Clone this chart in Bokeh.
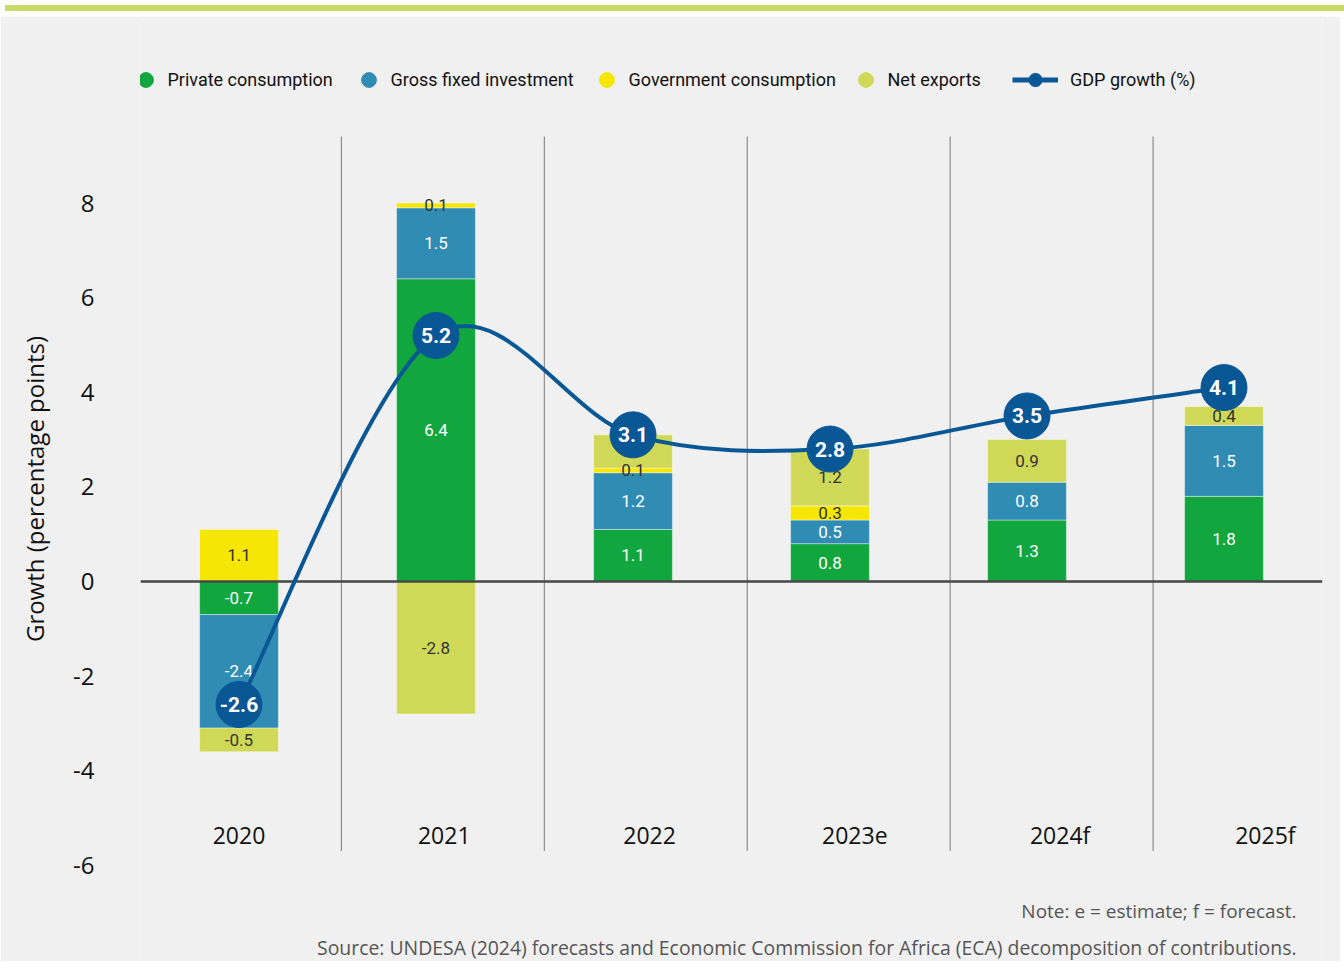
import numpy as np
from bokeh.plotting import figure
from bokeh.models import (Range1d, LinearAxis, FixedTicker, Legend, LegendItem,
                          Label, Div, ColumnDataSource)
from bokeh.layouts import column
from bokeh.embed import file_html
from bokeh.resources import INLINE
from bokeh.core.properties import value

# ---------------- data ----------------
years = ["2020", "2021", "2022", "2023e", "2024f", "2025f"]
private_consumption = [-0.7, 6.4, 1.1, 0.8, 1.3, 1.8]
fixed_investment = [-2.4, 1.5, 1.2, 0.5, 0.8, 1.5]
government_consumption = [1.1, 0.1, 0.1, 0.3, 0.0, 0.0]
net_exports = [-0.5, -2.8, 0.7, 1.2, 0.9, 0.4]
gdp_growth = [-2.6, 5.2, 3.1, 2.8, 3.5, 4.1]
y_ticks = [-6, -4, -2, 0, 2, 4, 6, 8]
series_names = ["Private consumption", "Gross fixed investment",
                "Government consumption", "Net exports"]

# ---------------- style ----------------
BG = "#f0f0f0"
colors = ["#12a63f", "#318cb3", "#f5e604", "#cfd957"]
label_colors = ["white", "white", "#333333", "#333333"]
NAVY = "#0a5796"
COND = "Roboto"
SANS = "'Open Sans', 'Noto Sans', sans-serif"

W = 1340
p = figure(width=W, height=945, output_backend="svg", toolbar_location=None,
           x_range=Range1d(-0.5, 5.5), y_range=Range1d(-8.034, 11.945),
           x_axis_location=None, y_axis_location=None,
           min_border_left=140, min_border_right=W - 1322, min_border_top=0, min_border_bottom=0,
           background_fill_color=BG, border_fill_color=BG, outline_line_color=None)
p.grid.visible = False

yaxis = LinearAxis(ticker=FixedTicker(ticks=y_ticks),
                   major_label_overrides={t: str(t) for t in y_ticks},
                   axis_line_color=None, major_tick_line_color=None,
                   minor_tick_line_color=None, major_tick_out=0, major_tick_in=0,
                   major_label_text_font=SANS, major_label_text_font_size="24px",
                   major_label_text_color="#111111", major_label_standoff=46,
                   axis_label="Growth (percentage points)",
                   axis_label_text_font=SANS, axis_label_text_font_size="24px",
                   axis_label_text_font_style="normal", axis_label_text_color="#111111",
                   axis_label_standoff=19)
p.add_layout(yaxis, "left")

idx = np.arange(len(years))

# separators between categories
sep_x = [0.52 + 1.03 * i for i in range(len(years) - 1)]
p.segment(x0=sep_x, x1=sep_x, y0=[-5.7] * len(sep_x), y1=[9.41] * len(sep_x),
          line_color="#8c8c8c", line_width=1.2)

# stacked bars (positives up, negatives down)
pos = np.zeros(len(years))
neg = np.zeros(len(years))
all_series = [private_consumption, fixed_investment, government_consumption, net_exports]
label_x, label_y, label_t, label_c = [], [], [], []
for k, arr in enumerate(all_series):
    arr = np.array(arr, dtype=float)
    bottom = np.where(arr >= 0, pos, neg)
    top = bottom + arr
    pos = np.where(arr >= 0, top, pos)
    neg = np.where(arr < 0, top, neg)
    mask = arr != 0
    src = ColumnDataSource(dict(x=idx[mask], bottom=bottom[mask], top=top[mask]))
    p.vbar(x="x", width=0.4, bottom="bottom", top="top", source=src,
           fill_color=colors[k], line_color="white", line_alpha=0.5, line_width=0.8)
    for i in idx[mask]:
        label_x.append(i)
        label_y.append((bottom[i] + top[i]) / 2)
        label_t.append(f"{arr[i]:.1f}")
        label_c.append(label_colors[k])

p.text(x=label_x, y=label_y, text=label_t, text_color=label_c,
       text_font=value(COND), text_font_size="17px",
       text_align="center", text_baseline="middle")

# zero line
p.hspan(y=[0], line_color="#474747", line_width=2.5)

# x category labels inside plot
p.text(x=[i * 1.042 for i in idx], y=[-5.37] * len(years), text=years,
       text_font=value(SANS), text_font_size="23px", text_color="#111111",
       text_align="center", text_baseline="middle")

# GDP line as smooth (Catmull-Rom) bezier segments
gx = idx.astype(float)
gy = np.array(gdp_growth, dtype=float)
n = len(gx)
x0s, y0s, x1s, y1s, cx0s, cy0s, cx1s, cy1s = [], [], [], [], [], [], [], []
for i in range(n - 1):
    ip = max(i - 1, 0)
    inn = min(i + 2, n - 1)
    x0s.append(gx[i]); y0s.append(gy[i])
    x1s.append(gx[i + 1]); y1s.append(gy[i + 1])
    cx0s.append(gx[i] + (gx[i + 1] - gx[ip]) / 6)
    cy0s.append(gy[i] + (gy[i + 1] - gy[ip]) / 6)
    cx1s.append(gx[i + 1] - (gx[inn] - gx[i]) / 6)
    cy1s.append(gy[i + 1] - (gy[inn] - gy[i]) / 6)
p.bezier(x0=x0s, y0=y0s, x1=x1s, y1=y1s, cx0=cx0s, cy0=cy0s, cx1=cx1s, cy1=cy1s,
         line_color=NAVY, line_width=4)
p.scatter(x=gx, y=gy, size=46, fill_color=NAVY, line_color=NAVY)
p.text(x=gx, y=gy, text=[f"{v:.1f}" for v in gdp_growth], text_color="white",
       text_font=value(COND), text_font_size="21px", text_font_style="bold",
       text_align="center", text_baseline="middle")

# legend: hidden renderers supply the legend glyphs
legend_renderers = []
for k in range(4):
    r = p.scatter(x=idx, y=all_series[k], size=15, fill_color=colors[k],
                  line_color=colors[k], visible=False)
    legend_renderers.append(r)
gl = p.line(x=gx, y=gy, line_color=NAVY, line_width=5, visible=False)
gm = p.scatter(x=gx, y=gy, size=13, fill_color=NAVY, line_color=NAVY, visible=False)

common = dict(orientation="horizontal", padding=0, margin=0,
              border_line_color=None, background_fill_alpha=0, inactive_fill_alpha=0,
              label_text_font=COND, label_text_font_size="18px", label_text_color="#111111")
leg_x = [-13.5, 209.5, 447.5, 706.5]
for k in range(4):
    lg = Legend(items=[LegendItem(label=series_names[k], renderers=[legend_renderers[k]])],
                location=(leg_x[k], 863.5), glyph_width=37, glyph_height=37,
                label_height=37, label_standoff=4, **common)
    p.add_layout(lg, "center")
lg = Legend(items=[LegendItem(label="GDP growth (%)", renderers=[gl, gm])],
            location=(872, 865.5), glyph_width=46, glyph_height=33,
            label_height=33, label_standoff=12, **common)
p.add_layout(lg, "center")

# notes
p.add_layout(Label(x=1156, y=51, x_units="screen", y_units="screen",
                   text="Note: e = estimate; f = forecast.", text_align="right",
                   text_baseline="middle", text_font=SANS, text_font_size="19px",
                   text_color="#555555"))
p.add_layout(Label(x=1156, y=14, x_units="screen", y_units="screen",
                   text="Source: UNDESA (2024) forecasts and Economic Commission for Africa (ECA) decomposition of contributions.",
                   text_align="right", text_baseline="middle", text_font=SANS,
                   text_font_size="19.4px", text_color="#555555"))

band = Div(width=W, height=6, styles={"background-color": "#c8da6a"})
layout = column(band, p, spacing=0)

open("out.html", "w").write(file_html(layout, INLINE))
